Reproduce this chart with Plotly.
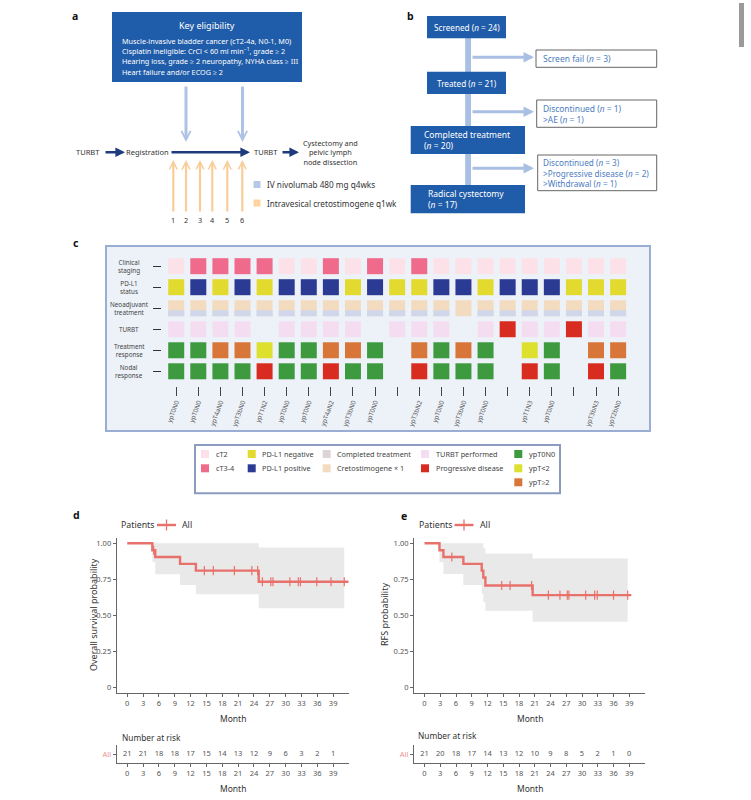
import plotly.graph_objects as go

W, H = 751, 800
FONT = "Noto Sans"

# ---------------- panel c data ----------------
patients = list(range(1, 22))
clinical_stage = ['cT2', 'cT3-4', 'cT3-4', 'cT3-4', 'cT3-4', 'cT2', 'cT2', 'cT3-4', 'cT2', 'cT3-4',
                  'cT2', 'cT3-4', 'cT2', 'cT2', 'cT2', 'cT2', 'cT2', 'cT2', 'cT2', 'cT2', 'cT2']
pdl1_status = ['neg', 'pos', 'neg', 'pos', 'neg', 'pos', 'pos', 'pos', 'neg', 'pos',
               'neg', 'neg', 'pos', 'pos', 'neg', 'pos', 'pos', 'pos', 'neg', 'neg', 'neg']
neoadjuvant = ['completed'] * 13 + ['creto1'] + ['completed'] * 7
turbt = ['performed', 'performed', 'performed', 'performed', None, 'performed', 'performed',
         'performed', 'performed', None, 'performed', 'performed', 'performed', None,
         'performed', 'progressive', 'performed', 'performed', 'progressive', 'performed', 'performed']
treatment_response = ['ypT0N0', 'ypT0N0', 'ypT>=2', 'ypT>=2', 'ypT<2', 'ypT0N0', 'ypT0N0', 'ypT>=2',
                      'ypT>=2', 'ypT0N0', None, 'ypT>=2', 'ypT0N0', 'ypT>=2', 'ypT0N0', None,
                      'ypT<2', 'ypT0N0', None, 'ypT>=2', 'ypT>=2']
nodal_response = ['N0', 'N0', 'N0', 'N0', 'N+', 'N0', 'N0', 'N+', 'N0', 'N0', None, 'N+', 'N0',
                  'N0', 'N0', None, 'N+', 'N0', None, 'N+', 'N0']
path_labels = ['ypT0N0', 'ypT0N0', 'ypT4aN0', 'ypT3bN0', 'ypT1N2', 'ypT0N0', 'ypT0N0', 'ypT4aN2',
               'ypT3bN0', 'ypT0N0', '', 'ypT3bN2', 'ypT0N0', 'ypT3bN0', 'ypT0N0', '', 'ypT1N3',
               'ypT0N0', '', 'ypT3bN3', 'ypT2bN0']
row_labels = ['Clinical<br>staging', 'PD-L1<br>status', 'Neoadjuvant<br>treatment', 'TURBT',
              'Treatment<br>response', 'Nodal<br>response']
legend_labels = [['cT2', 'cT3-4'], ['PD-L1 negative', 'PD-L1 positive'],
                 ['Completed treatment', 'Cretostimogene × 1'],
                 ['TURBT performed', 'Progressive disease'], ['ypT0N0', 'ypT&lt;2', 'ypT≥2']]

# ---------------- panel d/e data ----------------
os_time = [0, 4.75, 5.3, 10.0, 13.0, 24.9, 41.9]
os_surv = [1.0, 0.952, 0.905, 0.857, 0.810, 0.733, 0.733]
os_ci_time = [4.75, 5.3, 10.0, 13.0, 24.9, 41.1]
os_ci_low = [0.870, 0.785, 0.710, 0.646, 0.549, 0.549]
os_ci_high = [1.0, 1.0, 1.0, 1.0, 0.970, 0.970]
os_censor = [5.0, 14.6, 16.3, 20.3, 23.6, 24.7, 25.6, 27.2, 27.6, 30.8, 32.4, 32.8, 35.9, 38.6, 41.1]

rfs_time = [0, 2.85, 3.6, 7.4, 10.9, 11.2, 11.6, 20.6, 39.4]
rfs_surv = [1.0, 0.952, 0.905, 0.857, 0.810, 0.762, 0.707, 0.640, 0.640]
rfs_ci_time = [2.85, 3.6, 7.4, 10.9, 11.2, 11.6, 20.6, 38.7]
rfs_ci_low = [0.868, 0.787, 0.710, 0.650, 0.590, 0.532, 0.456, 0.456]
rfs_ci_high = [1.0, 1.0, 1.0, 1.0, 0.965, 0.930, 0.895, 0.895]
rfs_censor = [5.2, 14.7, 16.3, 20.4, 23.6, 25.8, 27.2, 27.5, 30.7, 32.4, 32.9, 36.0, 38.7]

month_ticks = [0, 3, 6, 9, 12, 15, 18, 21, 24, 27, 30, 33, 36, 39]
os_at_risk = [21, 21, 18, 18, 17, 15, 14, 13, 12, 9, 6, 3, 2, 1]
rfs_at_risk = [21, 20, 18, 17, 14, 13, 12, 10, 9, 8, 5, 2, 1, 0]
prob_ticks = [0, 0.25, 0.5, 0.75, 1.0]
prob_ticktext = ['0', '0.25', '0.50', '0.75', '1.00']

# ---------------- styles ----------------
BLUE_BOX = '#1f5ca9'
LIGHT_BLUE = '#adc2e4'
NAVY = '#1e3c7d'
ORANGE_AR = '#f9cd97'
KM_RED = '#e8716c'
BAND = '#e9e9e9'
stage_col = {'cT2': '#fce2e8', 'cT3-4': '#ef6a8b'}
pdl1_col = {'neg': '#e3da2f', 'pos': '#2b3a92'}
neo_top = {'completed': '#f3dbc0', 'creto1': '#f2dbbf'}
neo_bottom = '#d0d7ea'
turbt_col = {'performed': '#f5ddf1', 'progressive': '#d92c20'}
resp_col = {'ypT0N0': '#3d9a3f', 'ypT<2': '#dde02e', 'ypT>=2': '#d8763a'}
nodal_col = {'N0': '#3d9a3f', 'N+': '#d92c20'}
legend_colors = [['#fce2e8', '#ef6a8b'], ['#e3da2f', '#2b3a92'], ['#ddd4d5', '#f2dbbf'],
                 ['#f5ddf1', '#d92c20'], ['#3d9a3f', '#dde02e', '#d8763a']]


def px2x(px):
    return px / W


def py2y(py):
    return 1 - py / H


def step_at(times, surv, t):
    val = surv[0]
    for ti, si in zip(times, surv):
        if ti <= t:
            val = si
    return val


fig = go.Figure()
fig.add_trace(go.Scatter(x=[None], y=[None], xaxis='x', yaxis='y', showlegend=False, hoverinfo='skip'))


# ---------------- panel c cells ----------------
def cell_row(row, values, cmap, yoff=0.0, symbol='square', size=16, lw=0):
    xs = [p for p, v in zip(patients, values) if v is not None]
    cols = [cmap[v] if isinstance(cmap, dict) else cmap for v in values if v is not None]
    fig.add_trace(go.Scatter(
        x=xs, y=[row + yoff] * len(xs), mode='markers', xaxis='x2', yaxis='y2',
        marker=dict(symbol=symbol, size=size, color=cols,
                    line=dict(width=lw, color=cols)),
        showlegend=False, hoverinfo='skip'))


cell_row(0, clinical_stage, stage_col)
cell_row(1, pdl1_status, pdl1_col)
cell_row(2, neoadjuvant, neo_top)
# line-ew symbols are 1.4x the marker size long -> 16 px wide stripe
cell_row(2, [v if v == 'completed' else None for v in neoadjuvant], neo_bottom,
         yoff=0.24, symbol='line-ew', size=16 / 1.4, lw=6)
cell_row(3, turbt, turbt_col)
cell_row(4, treatment_response, resp_col)
cell_row(5, nodal_response, nodal_col)


# ---------------- KM curves ----------------
def km(times, surv, ci_t, ci_lo, ci_hi, censor, xa, ya):
    fig.add_trace(go.Scatter(x=ci_t, y=ci_hi, mode='lines', line=dict(width=0, shape='hv'),
                             xaxis=xa, yaxis=ya, showlegend=False, hoverinfo='skip'))
    fig.add_trace(go.Scatter(x=ci_t, y=ci_lo, mode='lines', line=dict(width=0, shape='hv'),
                             fill='tonexty', fillcolor=BAND,
                             xaxis=xa, yaxis=ya, showlegend=False, hoverinfo='skip'))
    fig.add_trace(go.Scatter(x=times, y=surv, mode='lines', line=dict(color=KM_RED, width=2.4, shape='hv'),
                             xaxis=xa, yaxis=ya, showlegend=False, hoverinfo='skip'))
    fig.add_trace(go.Scatter(x=censor, y=[step_at(times, surv, t) for t in censor], mode='markers',
                             marker=dict(symbol='line-ns', size=6.5, color=KM_RED,
                                         line=dict(width=1.2, color=KM_RED)),
                             xaxis=xa, yaxis=ya, showlegend=False, hoverinfo='skip'))


km(os_time, os_surv, os_ci_time, os_ci_low, os_ci_high, os_censor, 'x4', 'y4')
km(rfs_time, rfs_surv, rfs_ci_time, rfs_ci_low, rfs_ci_high, rfs_censor, 'x5', 'y5')

for vals, xa, ya in [(os_at_risk, 'x6', 'y6'), (rfs_at_risk, 'x7', 'y7')]:
    fig.add_trace(go.Scatter(x=month_ticks, y=[0] * len(month_ticks), mode='text',
                             text=[str(v) for v in vals],
                             textfont=dict(size=7.5, color='#555', family=FONT),
                             xaxis=xa, yaxis=ya, showlegend=False, hoverinfo='skip'))

# ---------------- shapes & annotations ----------------
shapes = []
ann = []


def rect(x0, y0, x1, y1, fill, line_color=None, lw=0, layer='above'):
    shapes.append(dict(type='rect', xref='x', yref='y', x0=x0, y0=y0, x1=x1, y1=y1,
                       fillcolor=fill, line=dict(color=line_color or fill, width=lw), layer=layer))


def seg(x0, y0, x1, y1, color, width):
    shapes.append(dict(type='line', xref='x', yref='y', x0=x0, y0=y0, x1=x1, y1=y1,
                       line=dict(color=color, width=width)))


def txt(x, y, s, size=8, color='#333', xanchor='center', yanchor='middle', angle=0, align='center'):
    ann.append(dict(x=x, y=y, xref='x', yref='y', text=s, showarrow=False,
                    font=dict(size=size, color=color, family=FONT),
                    xanchor=xanchor, yanchor=yanchor, textangle=angle, align=align))


def arrow(x0, y0, x1, y1, color, width, head=2, size=1.0):
    ann.append(dict(x=x1, y=y1, ax=x0, ay=y0, xref='x', yref='y', axref='x', ayref='y',
                    text='', showarrow=True, arrowhead=head, arrowsize=size,
                    arrowwidth=width, arrowcolor=color, standoff=0, startstandoff=0))


# panel letters
for letter, x, y in [('a', 75, 16), ('b', 410, 16), ('c', 76, 243), ('d', 76, 515), ('e', 404, 516)]:
    txt(x, y, '<b>%s</b>' % letter, size=10.5, color='#111')

# ---- panel a ----
rect(112, 12, 302, 82, BLUE_BOX)
txt(207, 25, 'Key eligibility', size=9, color='white')
a_lines = ['Muscle-invasive bladder cancer (cT2-4a, N0-1, M0)',
           'Cisplatin ineligible: CrCl &lt; 60 ml min<sup>−1</sup>, grade ≥ 2',
           'Hearing loss, grade ≥ 2 neuropathy, NYHA class ≥ III',
           'Heart failure and/or ECOG ≥ 2']
for i, s in enumerate(a_lines):
    txt(119.5, 40.5 + i * 10.4, s, size=7.25, color='white', xanchor='left')

arrow(186, 85, 186, 142, LIGHT_BLUE, 3, head=5, size=0.6)
arrow(242.5, 85, 242.5, 142, LIGHT_BLUE, 3, head=5, size=0.6)
txt(88, 152.3, 'TURBT', size=7.5)
arrow(104, 152.3, 125, 152.3, NAVY, 2.4, head=2, size=0.8)
txt(147, 152.3, 'Registration', size=7.5)
arrow(170, 152.3, 250, 152.3, NAVY, 2.4, head=2, size=0.8)
txt(266, 152.3, 'TURBT', size=7.5)
arrow(281, 152.3, 299, 152.3, NAVY, 2.4, head=2, size=0.8)
txt(330, 152.5, 'Cystectomy and<br>pelvic lymph<br>node dissection', size=7.3)
for i, xx in enumerate([173.3, 186, 200, 212.3, 227.3, 242.3]):
    arrow(xx, 213, xx, 160, ORANGE_AR, 2.2, head=5, size=0.7)
    txt(xx, 220, str(i + 1), size=7.3)
rect(253.5, 181, 260.5, 188, '#b6c8e6')
txt(264.5, 184.5, 'IV nivolumab 480 mg q4wks', size=8.2, xanchor='left')
rect(253.5, 199.5, 260.5, 206.5, '#fbd49f')
txt(264.5, 203, 'Intravesical cretostimogene q1wk', size=8.2, xanchor='left')

# ---- panel b ----
rect(465.2, 38, 471, 186, '#a9bfe3')
for yy in [57.3, 111.7, 168.3]:
    arrow(471, yy, 534, yy, '#a9bfe3', 3, head=2, size=0.7)
rect(427, 16, 506, 38.3, BLUE_BOX)
txt(466.5, 27.2, 'Screened (<i>n</i> = 24)', size=8.2, color='white')
rect(427, 71.7, 506, 94, BLUE_BOX)
txt(466.5, 83, 'Treated (<i>n</i> = 21)', size=8.2, color='white')
rect(410.7, 126, 525, 154, BLUE_BOX)
txt(422, 140.3, 'Completed treatment<br>(<i>n</i> = 20)', size=8.5, color='white', xanchor='left', align='left')
rect(410.7, 185, 525, 213.3, BLUE_BOX)
txt(426, 199, 'Radical cystectomy<br>(<i>n</i> = 17)', size=8.5, color='white', xanchor='left', align='left')
BTXT = '#4d7dc0'
rect(536, 50, 656.7, 67.3, 'white', '#666', 1)
txt(541, 58.8, 'Screen fail (<i>n</i> = 3)', size=8.5, color=BTXT, xanchor='left', align='left')
rect(536.7, 100, 656.7, 127.3, 'white', '#666', 1)
txt(541, 114, 'Discontinued (<i>n</i> = 1)<br>&gt;AE (<i>n</i> = 1)', size=8.4, color=BTXT,
    xanchor='left', align='left')
rect(537.7, 155, 656.7, 190.7, 'white', '#666', 1)
txt(541, 173.3, 'Discontinued (<i>n</i> = 3)<br>&gt;Progressive disease (<i>n</i> = 2)<br>&gt;Withdrawal (<i>n</i> = 1)',
    size=8.2, color=BTXT, xanchor='left', align='left')

# ---- panel c frame & labels ----
rect(106, 246, 650, 431, '#edf2f9', '#9aaed4', 2, layer='below')
row_centers_px = [266.2, 287.2, 308.2, 329.3, 350.4, 371.4]
for lab, yy in zip(row_labels, row_centers_px):
    txt(129, yy, lab, size=6.3, color='#444')

# legend box for panel c
rect(195, 445, 560, 493.3, 'white', '#8c9cc0', 2)
col_sw_x = [205, 251.7, 326.7, 425, 518.3]
row_sw_y = [454, 468.3, 482.3]
for cx, labs, cols in zip(col_sw_x, legend_labels, legend_colors):
    for ry, lab, colr in zip(row_sw_y, labs, cols):
        rect(cx - 4, ry - 4, cx + 4, ry + 4, colr)
        txt(cx + 8.5, ry, lab, size=7.3, color='#444', xanchor='left')

# ---- panels d / e labels and legends ----
txt(93, 615, 'Overall survival probability', size=9, color='#333', angle=-90)
txt(384, 615, 'RFS probability', size=9, color='#333', angle=-90)
txt(233, 718, 'Month', size=8.5)
txt(530, 718, 'Month', size=8.5)
txt(233, 788, 'Month', size=8.5)
txt(530, 788, 'Month', size=8.5)
txt(120, 737.5, 'Number at risk', size=8.3, xanchor='left')
txt(416, 735, 'Number at risk', size=8.3, xanchor='left')
for lx in [119, 416.5]:
    txt(lx, 525, 'Patients', size=8.8, xanchor='left')
    seg(lx + 38, 525, lx + 57, 525, KM_RED, 2.4)
    seg(lx + 47.5, 519.5, lx + 47.5, 530.5, KM_RED, 1.3)
    txt(lx + 61, 525, 'All', size=8.8, xanchor='left')

# scrollbar artefact of the screenshot
shapes.append(dict(type='rect', xref='paper', yref='paper', x0=px2x(739), x1=px2x(744),
                   y0=py2y(47), y1=py2y(3), fillcolor='#9a9a9a', line=dict(width=0)))

# ---------------- axes ----------------
km_x = dict(range=[-2, 42], tickmode='array', tickvals=month_ticks, ticks='outside', ticklen=3,
            tickcolor='#666', showline=True, linecolor='#666', linewidth=1, showgrid=False,
            zeroline=False, tickfont=dict(size=7.5, color='#555', family=FONT), fixedrange=True)
km_y = dict(range=[-0.0375, 1.0368], tickmode='array', tickvals=prob_ticks, ticktext=prob_ticktext,
            ticks='outside', ticklen=3, tickcolor='#666', showline=True, linecolor='#666', linewidth=1,
            showgrid=False, zeroline=False, tickfont=dict(size=7.5, color='#555', family=FONT),
            domain=[py2y(692.7), py2y(538)], fixedrange=True)
risk_y = dict(range=[-1, 1.1], tickmode='array', tickvals=[0], ticktext=['All'], ticks='outside', ticklen=3,
              tickcolor='#666', showline=True, linecolor='#666', linewidth=1, showgrid=False, zeroline=False,
              tickfont=dict(size=7.5, color='#eb9690', family=FONT), domain=[py2y(763.3), py2y(745)],
              fixedrange=True)

fig.update_layout(
    width=W, height=H, autosize=False, margin=dict(l=0, r=0, t=0, b=0),
    paper_bgcolor='white', plot_bgcolor='rgba(0,0,0,0)',
    font=dict(family=FONT, color='#333'), showlegend=False,
    xaxis=dict(domain=[0, 1], range=[0, W], visible=False, fixedrange=True),
    yaxis=dict(domain=[0, 1], range=[H, 0], visible=False, fixedrange=True),
    xaxis2=dict(domain=[px2x(162), px2x(640)], range=[0.357, 21.99], anchor='y2', tickmode='array',
                tickvals=patients, ticktext=path_labels, ticks='outside', ticklen=9, tickwidth=1,
                tickcolor='#444', tickangle=-70, tickfont=dict(size=6.4, color='#555', family=FONT),
                showline=False, showgrid=False, zeroline=False, fixedrange=True),
    yaxis2=dict(domain=[py2y(386), py2y(250)], range=[5.70, -0.77], anchor='x2', tickmode='array',
                tickvals=list(range(6)), ticks='outside', ticklen=8, tickwidth=1.2, tickcolor='#333',
                showticklabels=False, showline=False, showgrid=False, zeroline=False, fixedrange=True),
    xaxis4=dict(km_x, domain=[px2x(116.7), px2x(349)], anchor='y4'),
    yaxis4=dict(km_y, anchor='x4'),
    xaxis5=dict(km_x, domain=[px2x(414), px2x(645)], anchor='y5'),
    yaxis5=dict(km_y, anchor='x5'),
    xaxis6=dict(km_x, domain=[px2x(116.7), px2x(349)], anchor='y6'),
    yaxis6=dict(risk_y, anchor='x6'),
    xaxis7=dict(km_x, domain=[px2x(414), px2x(645)], anchor='y7'),
    yaxis7=dict(risk_y, anchor='x7'),
    shapes=shapes, annotations=ann,
)

fig.write_html("out.html", config={'displayModeBar': False},
               post_script="document.body.style.margin='0';")
